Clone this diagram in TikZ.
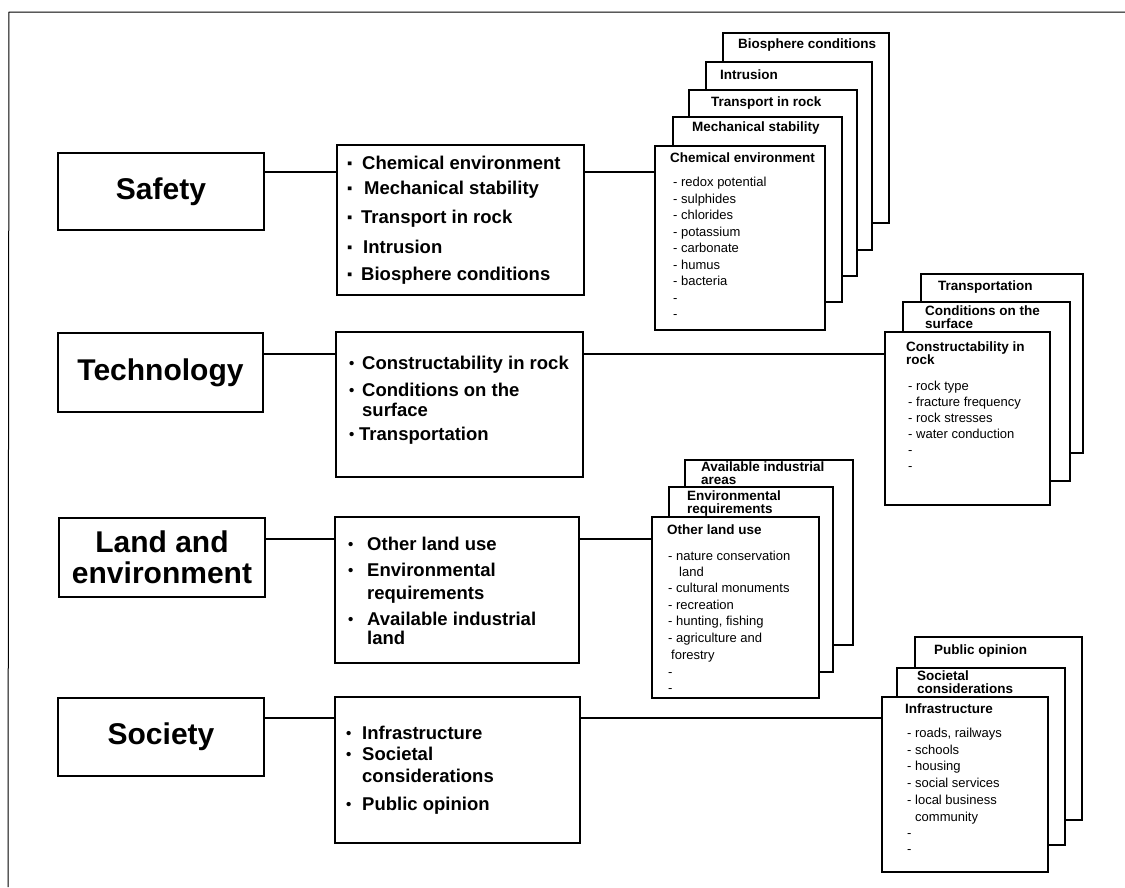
\documentclass[tikz,border=0pt]{standalone}
\usepackage{fontspec}
\setmainfont{Liberation Sans}
\newcommand\mybul[2]{\makebox[#1][l]{\raisebox{1.5pt}{\fontsize{15}{15}\selectfont #2}}}
\begin{document}
\begin{tikzpicture}[x=1pt,y=-1pt,
  frameline/.style={line width=1pt},
  mainbox/.style={draw, fill=white, line width=2pt, inner sep=0pt, outer sep=0pt,
    align=center, font=\bfseries\fontsize{30}{31}\selectfont},
  listbox/.style={draw, fill=white, line width=2pt, inner sep=0pt, outer sep=0pt},
  card/.style={draw, fill=white, line width=2pt, inner sep=0pt, outer sep=0pt, anchor=north west},
  cardtitle/.style={anchor=mid west, inner sep=0pt, font=\bfseries\fontsize{13.5}{11}\selectfont},
  carditem/.style={anchor=mid west, inner sep=0pt, font=\fontsize{13}{15}\selectfont},
  midtext/.style={anchor=mid west, inner sep=0pt, font=\bfseries\fontsize{18.5}{20}\selectfont},
  link/.style={line width=2pt}]
\useasboundingbox (0,0) rectangle (1125,887);

% outer frame (top and left edges)
\coordinate (fa) at (9,12);
\coordinate (fb) at (1125,12);
\coordinate (fc) at (8,887);
\draw[frameline] (fb) -- (fa) -- (fc);

% row heights of the connectors
\coordinate (r1) at (0,172);
\coordinate (r2) at (0,354);
\coordinate (r3) at (0,539);
\coordinate (r4) at (0,718);

% ---------- main categories ----------
\node[mainbox, minimum width=206, minimum height=77] (safety) at (161,191.5) {Safety};
\node[mainbox, minimum width=205, minimum height=79] (tech) at (160.5,372.5) {Technology};
\node[mainbox, minimum width=206, minimum height=79] (land) at (162,557.5) {Land and\\environment};
\node[mainbox, minimum width=206, minimum height=78] (society) at (161,737) {Society};

% ---------- factor lists ----------
\node[listbox, minimum width=247, minimum height=150] (safetyList) at (460.5,220) {};
\node[listbox, minimum width=247, minimum height=145] (techList) at (459.5,404.5) {};
\node[listbox, minimum width=244, minimum height=146] (landList) at (457,590) {};
\node[listbox, minimum width=245, minimum height=146] (socList) at (457.5,770) {};

\node[midtext] (sl1) at (347,167) {\mybul{15pt}{▪}Chemical environment};
\node[midtext] (sl2) at (347,192) {\mybul{17pt}{▪}Mechanical stability};
\node[midtext] (sl3) at (347,221) {\mybul{14pt}{▪}Transport in rock};
\node[midtext] (sl4) at (347,251) {\mybul{16pt}{▪}Intrusion};
\node[midtext] (sl5) at (347,278) {\mybul{14pt}{▪}Biosphere conditions};

\node[midtext] (tl1) at (349,367) {\mybul{13pt}{•}Constructability in rock};
\node[midtext] (tl2) at (349,394) {\mybul{13pt}{•}Conditions on the};
\node[midtext] (tl2b) at (362,414) {surface};
\node[midtext] (tl3) at (349,438) {\mybul{10pt}{•}Transportation};

\node[midtext] (ll1) at (348,548) {\mybul{19pt}{•}Other land use};
\node[midtext] (ll2) at (348,574) {\mybul{19pt}{•}Environmental};
\node[midtext] (ll2b) at (367,597) {requirements};
\node[midtext] (ll3) at (348,623) {\mybul{19pt}{•}Available industrial};
\node[midtext] (ll3b) at (367,642) {land};

\node[midtext] (ol1) at (346,737) {\mybul{16pt}{•}Infrastructure};
\node[midtext] (ol2) at (346,758) {\mybul{16pt}{•}Societal};
\node[midtext] (ol2b) at (362,780) {considerations};
\node[midtext] (ol3) at (346,808) {\mybul{16pt}{•}Public opinion};

% ---------- safety cards ----------
\node[card, minimum width=166, minimum height=190] (bioCard) at (723,33) {};
\node[cardtitle] at (738,46) {Biosphere conditions};
\node[card, minimum width=166, minimum height=188] (intrCard) at (706,62) {};
\node[cardtitle] at (720,77) {Intrusion};
\node[card, minimum width=168, minimum height=186] (trCard) at (689,90) {};
\node[cardtitle] at (711,104) {Transport in rock};
\node[card, minimum width=169, minimum height=185] (mechCard) at (673,117) {};
\node[cardtitle] at (692,129) {Mechanical stability};
\node[card, minimum width=170, minimum height=184] (chemCard) at (655,146) {};
\node[cardtitle] at (670,160) {Chemical environment};
\foreach \t [count=\i] in {- redox potential, - sulphides, - chlorides, - potassium,
    - carbonate, - humus, - bacteria, -, -}
  \node[carditem] at (673,{184+16.5*(\i-1)}) {\t};

% ---------- technology cards ----------
\node[card, minimum width=162, minimum height=179] (tpCard) at (921,274) {};
\node[cardtitle] at (938,288) {Transportation};
\node[card, minimum width=167, minimum height=179] (condCard) at (903,302) {};
\node[cardtitle] at (925,313) {Conditions on the};
\node[cardtitle] at (925,325.5) {surface};
\node[card, minimum width=165, minimum height=173] (consCard) at (885,332) {};
\node[cardtitle] at (906,349) {Constructability in};
\node[cardtitle] at (906,362) {rock};
\foreach \t [count=\i] in {- rock type, - fracture frequency, - rock stresses,
    - water conduction, -, -}
  \node[carditem] at (908,{388+16*(\i-1)}) {\t};

% ---------- land and environment cards ----------
\node[card, minimum width=168, minimum height=185] (availCard) at (685,460) {};
\node[cardtitle] at (701,469) {Available industrial};
\node[cardtitle] at (701,482) {areas};
\node[card, minimum width=164, minimum height=185] (envCard) at (669,487) {};
\node[cardtitle] at (687,498) {Environmental};
\node[cardtitle] at (687,510.5) {requirements};
\node[card, minimum width=167, minimum height=181] (otherCard) at (652,517) {};
\node[cardtitle] at (667,532) {Other land use};
\node[carditem] at (668,558) {- nature conservation};
\node[carditem] at (679,574) {land};
\node[carditem] at (668,590) {- cultural monuments};
\node[carditem] at (668,607) {- recreation};
\node[carditem] at (668,623) {- hunting, fishing};
\node[carditem] at (668,640) {- agriculture and};
\node[carditem] at (671,657) {forestry};
\node[carditem] at (668,674) {-};
\node[carditem] at (668,690) {-};

% ---------- society cards ----------
\node[card, minimum width=167, minimum height=183] (pubCard) at (915,637) {};
\node[cardtitle] at (934,652) {Public opinion};
\node[card, minimum width=168, minimum height=177] (socCard) at (897,668) {};
\node[cardtitle] at (917,678) {Societal};
\node[cardtitle] at (917,690.5) {considerations};
\node[card, minimum width=166, minimum height=175] (infraCard) at (882,697) {};
\node[cardtitle] at (905,711) {Infrastructure};
\node[carditem] at (907,735) {- roads, railways};
\node[carditem] at (907,752) {- schools};
\node[carditem] at (907,768) {- housing};
\node[carditem] at (907,785) {- social services};
\node[carditem] at (907,802) {- local business};
\node[carditem] at (915,819) {community};
\node[carditem] at (907,835) {-};
\node[carditem] at (907,851) {-};

% ---------- connectors ----------
\draw[link] (safety.east |- r1) -- (safetyList.west |- r1);
\draw[link] (safetyList.east |- r1) -- (chemCard.west |- r1);
\draw[link] (tech.east |- r2) -- (techList.west |- r2);
\draw[link] (techList.east |- r2) -- (consCard.west |- r2);
\draw[link] (land.east |- r3) -- (landList.west |- r3);
\draw[link] (landList.east |- r3) -- (otherCard.west |- r3);
\draw[link] (society.east |- r4) -- (socList.west |- r4);
\draw[link] (socList.east |- r4) -- (infraCard.west |- r4);
\end{tikzpicture}
\end{document}
